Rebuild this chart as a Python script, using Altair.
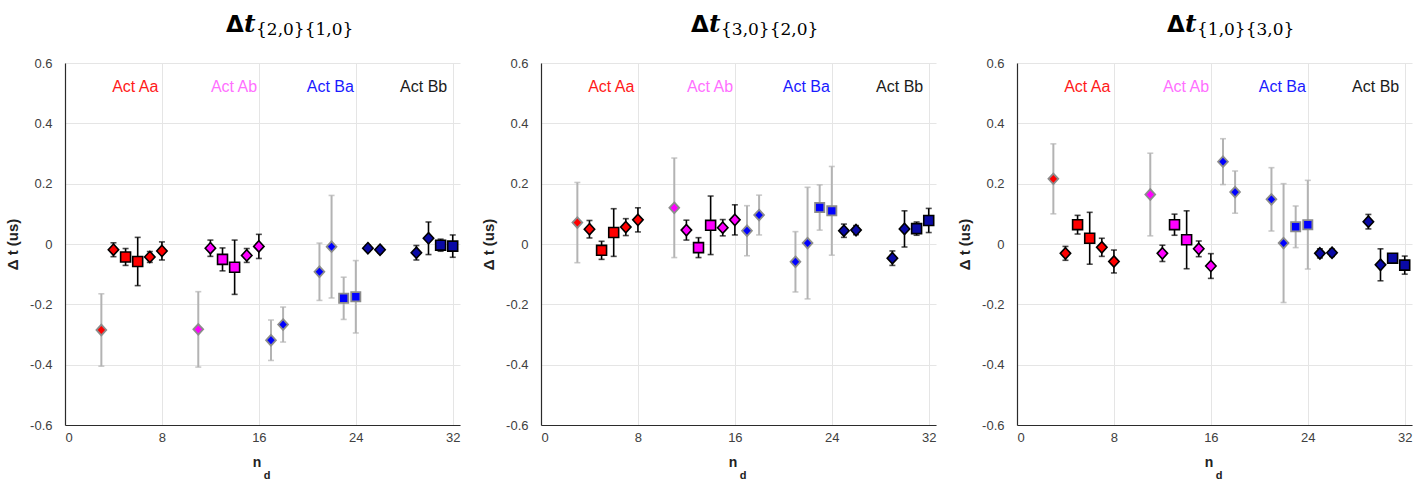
import altair as alt
import pandas as pd

# Detector pair index for every measurement
nd = [3, 4, 5, 6, 7, 8,
      11, 12, 13, 14, 15, 16,
      17, 18, 21, 22, 23, 24,
      25, 26, 29, 30, 31, 32]
group = ["Aa"] * 6 + ["Ab"] * 6 + ["Ba"] * 6 + ["Bb"] * 6
kind = (["diamond", "diamond", "square", "square", "diamond", "diamond"] * 2
        + ["diamond"] * 4 + ["square"] * 2
        + ["diamond"] * 4 + ["square"] * 2)
reference = ([True, False, False, False, False, False] * 2
             + [True] * 6 + [False] * 6)

# Delta t {2,0}{1,0}
p1_val = [-0.285, -0.019, -0.043, -0.058, -0.043, -0.023,
          -0.283, -0.014, -0.051, -0.077, -0.038, -0.008,
          -0.319, -0.267, -0.092, -0.009, -0.180, -0.175,
          -0.014, -0.019, -0.029, 0.019, -0.004, -0.007]
p1_err = [0.120, 0.023, 0.028, 0.080, 0.018, 0.030,
          0.125, 0.027, 0.038, 0.090, 0.023, 0.040,
          0.067, 0.058, 0.095, 0.170, 0.070, 0.120,
          0.010, 0.010, 0.024, 0.054, 0.020, 0.037]

# Delta t {3,0}{2,0}
p2_val = [0.071, 0.049, -0.021, 0.038, 0.056, 0.080,
          0.120, 0.046, -0.012, 0.062, 0.054, 0.080,
          0.044, 0.096, -0.059, 0.003, 0.121, 0.110,
          0.044, 0.046, -0.047, 0.050, 0.051, 0.078]
p2_err = [0.133, 0.029, 0.030, 0.079, 0.028, 0.040,
          0.165, 0.033, 0.033, 0.097, 0.027, 0.050,
          0.083, 0.066, 0.100, 0.185, 0.075, 0.147,
          0.022, 0.015, 0.024, 0.060, 0.022, 0.040]

# Delta t {1,0}{3,0}
p3_val = [0.216, -0.031, 0.064, 0.019, -0.011, -0.058,
          0.164, -0.031, 0.064, 0.014, -0.016, -0.073,
          0.273, 0.172, 0.148, 0.003, 0.057, 0.064,
          -0.031, -0.029, 0.074, -0.069, -0.047, -0.070]
p3_err = [0.116, 0.023, 0.031, 0.086, 0.030, 0.038,
          0.137, 0.027, 0.035, 0.096, 0.026, 0.041,
          0.076, 0.070, 0.105, 0.197, 0.069, 0.147,
          0.015, 0.012, 0.024, 0.053, 0.013, 0.030]

titles = ["{2,0}{1,0}", "{3,0}{2,0}", "{1,0}{3,0}"]

act_labels = ["Act Aa", "Act Ab", "Act Ba", "Act Bb"]
act_nd = [5.8, 13.95, 21.9, 29.6]
act_y = 0.52

x_ticks = [0, 8, 16, 24, 32]
y_ticks = [-0.6, -0.4, -0.2, 0, 0.2, 0.4, 0.6]

W, H = 395, 362
XMAX = 32.6

GROUPS = ["Aa", "Ab", "Ba", "Bb"]
FILLS = ["#ff0000", "#ff00ff", "#0000ff", "#0a0aa6"]
LABEL_COLORS = ["#ff1a1a", "#ff70ff", "#1a1aff", "#1a1a1a"]
DIAMOND = "M0,-1L0.92,0L0,1L-0.92,0Z"

y_label_expr = ("datum.value == 0 ? '0' : "
                "(datum.value < 0 ? '-' : '') + format(abs(datum.value), '.1f')")


def panel(vals, errs, sub, title_shift):
    df = pd.DataFrame({
        "nd": nd, "val": vals, "err": errs, "group": group,
        "kind": kind,
        "edge": ["faint" if r else "dark" for r in reference],
    })
    df["lo"] = df["val"] - df["err"]
    df["hi"] = df["val"] + df["err"]
    df["mk"] = df["kind"] + "-" + df["edge"]

    xs = alt.Scale(domain=[0, XMAX], nice=False, zero=False)
    ys = alt.Scale(domain=[-0.6, 0.6], nice=False)
    edge_color = alt.Scale(domain=["dark", "faint"], range=["#000000", "#b3b3b3"])
    edge_width = alt.Scale(domain=["dark", "faint"], range=[1.6, 2.0])

    base = alt.Chart(df)

    bars = base.mark_rule().encode(
        x=alt.X("nd:Q", scale=xs,
                axis=alt.Axis(values=x_ticks, title=None, labelPadding=6)),
        y=alt.Y("lo:Q", scale=ys,
                axis=alt.Axis(values=y_ticks, title="Δ t (us)",
                              labelExpr=y_label_expr, labelPadding=13,
                              titlePadding=9)),
        y2="hi:Q",
        stroke=alt.Stroke("edge:N", scale=edge_color, legend=None),
        strokeWidth=alt.StrokeWidth("edge:N", scale=edge_width, legend=None),
    )

    caps_lo = base.mark_tick(orient="horizontal", size=6, thickness=1.6).encode(
        x=alt.X("nd:Q", scale=xs),
        y=alt.Y("lo:Q", scale=ys),
        fill=alt.Fill("edge:N", scale=edge_color, legend=None),
    )
    caps_hi = base.mark_tick(orient="horizontal", size=6, thickness=1.6).encode(
        x=alt.X("nd:Q", scale=xs),
        y=alt.Y("hi:Q", scale=ys),
        fill=alt.Fill("edge:N", scale=edge_color, legend=None),
    )

    points = base.mark_point(filled=True, opacity=1).encode(
        x=alt.X("nd:Q", scale=xs),
        y=alt.Y("val:Q", scale=ys),
        shape=alt.Shape("kind:N",
                        scale=alt.Scale(domain=["diamond", "square"],
                                        range=[DIAMOND, "square"]),
                        legend=None),
        size=alt.Size("mk:N",
                      scale=alt.Scale(domain=["diamond-dark", "diamond-faint",
                                              "square-dark", "square-faint"],
                                      range=[128, 84, 58, 52]),
                      legend=None),
        fill=alt.Fill("group:N", scale=alt.Scale(domain=GROUPS, range=FILLS),
                      legend=None),
        stroke=alt.Stroke("edge:N",
                          scale=alt.Scale(domain=["dark", "faint"],
                                          range=["#000000", "#8c8c8c"]),
                          legend=None),
        strokeWidth=alt.StrokeWidth("edge:N",
                                    scale=alt.Scale(domain=["dark", "faint"],
                                                    range=[1.6, 1.8]),
                                    legend=None),
    )

    act_df = pd.DataFrame({
        "label": act_labels, "nd": act_nd, "y": [act_y] * 4,
    })
    act_layers = []
    for i, colr in enumerate(LABEL_COLORS):
        act_layers.append(
            alt.Chart(act_df.iloc[[i]]).mark_text(
                font="Liberation Sans", fontSize=16, baseline="middle",
                color=colr,
            ).encode(
                x=alt.X("nd:Q", scale=xs),
                y=alt.Y("y:Q", scale=ys),
                text="label:N",
            )
        )

    one = pd.DataFrame({"a": [0]})
    delta = alt.Chart(one).mark_text(
        text="Δ", font="DejaVu Sans", fontWeight="bold", fontSize=23,
        align="left", baseline="alphabetic", color="#000000",
    ).encode(x=alt.value(150 + title_shift), y=alt.value(-31))
    t_sym = alt.Chart(one).mark_text(
        text="t", font="DejaVu Serif", fontWeight="bold", fontStyle="italic",
        fontSize=25, align="left", baseline="alphabetic", color="#000000",
    ).encode(x=alt.value(168 + title_shift), y=alt.value(-31))
    t_sub = alt.Chart(one).mark_text(
        text=sub, font="DejaVu Serif", fontSize=17,
        align="left", baseline="alphabetic", color="#000000",
    ).encode(x=alt.value(180 + title_shift), y=alt.value(-28))

    n_lab = alt.Chart(one).mark_text(
        text="n", font="Liberation Sans", fontWeight="bold", fontSize=14,
        baseline="middle", color="#222222",
    ).encode(x=alt.value(192), y=alt.value(H + 38))
    d_lab = alt.Chart(one).mark_text(
        text="d", font="Liberation Sans", fontWeight="bold", fontSize=11,
        baseline="middle", color="#222222",
    ).encode(x=alt.value(202), y=alt.value(H + 51))

    return alt.layer(bars, caps_lo, caps_hi, points, *act_layers,
                     delta, t_sym, t_sub, n_lab, d_lab).resolve_scale(
        fill="independent", stroke="independent", strokeWidth="independent",
    ).properties(width=W, height=H)


chart = alt.hconcat(
    panel(p1_val, p1_err, titles[0], 11),
    panel(p2_val, p2_err, titles[1], 0),
    panel(p3_val, p3_err, titles[2], 0),
    spacing=20,
).properties(
    padding={"left": 5, "top": 12, "right": 0, "bottom": 0},
).configure_view(
    stroke=None,
).configure_axis(
    grid=True,
    gridColor="#e5e5e5",
    gridWidth=1,
    domainColor="#2b2b2b",
    domainWidth=1.2,
    ticks=False,
    labelFont="Liberation Sans",
    labelFontSize=13,
    labelColor="#404040",
    titleFont="Liberation Sans",
    titleFontSize=15,
    titleFontWeight="bold",
    titleColor="#222222",
)

chart.save("out.html", embed_options={"renderer": "svg", "actions": False})
